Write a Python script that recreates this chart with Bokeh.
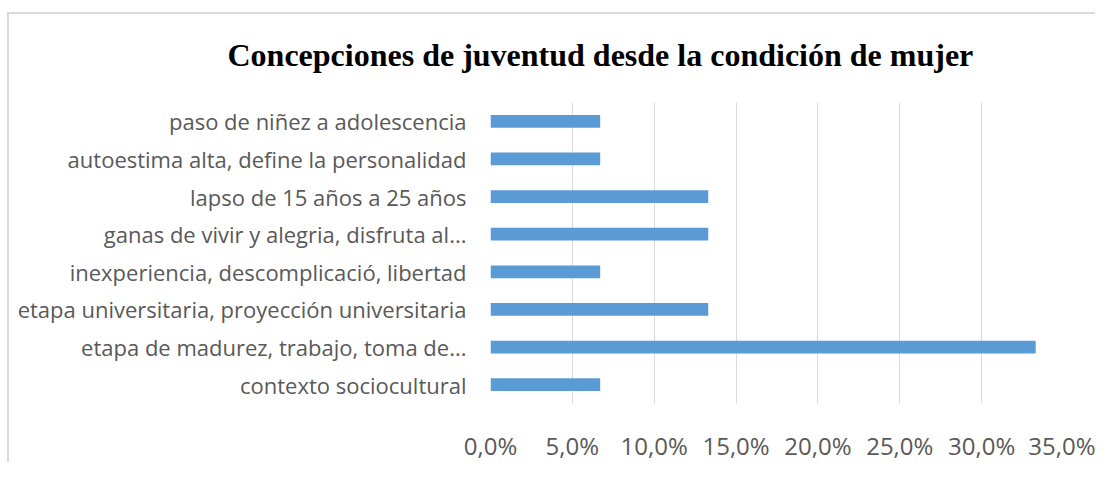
from bokeh.plotting import figure
from bokeh.models import FactorRange, Range1d, FixedTicker, CustomJSTickFormatter, ColumnDataSource, Title
from bokeh.embed import file_html
from bokeh.resources import INLINE

# categories listed bottom -> top
categories = [
    "contexto sociocultural",
    "etapa de madurez, trabajo, toma de...",
    "etapa universitaria, proyección universitaria",
    "inexperiencia, descomplicació, libertad",
    "ganas de vivir y alegria, disfruta al...",
    "lapso de 15 años a 25 años",
    "autoestima alta, define la personalidad",
    "paso de niñez a adolescencia",
]
values = [6.7, 33.3, 13.3, 6.7, 13.3, 13.3, 6.7, 6.7]
tick_values = [0, 5, 10, 15, 20, 25, 30, 35]
title_text = "Concepciones de juventud desde la condición de mujer"

src = ColumnDataSource(dict(cat=categories, val=values))

p = figure(
    width=1088, height=450,
    y_range=FactorRange(factors=categories, range_padding=0),
    x_range=Range1d(0, 35),
    output_backend="svg", toolbar_location=None,
    min_border_left=481, min_border_right=34, min_border_top=88, min_border_bottom=57,
)
p.styles = {"border-left": "2px solid #d9d9d9", "border-top": "2px solid #d9d9d9",
            "margin-top": "12px", "margin-left": "7px"}

p.hbar(y="cat", right="val", left=0, height=0.34, source=src, color="#5b9bd5", line_color=None)

spacer = Title(text=" ", text_font_size="11px", standoff=0)
p.add_layout(spacer, "above")
t = Title(text=title_text, align="left", offset=-263,
          text_font="Liberation Serif", text_font_size="32px", text_font_style="bold",
          text_color="#000000", standoff=32)
p.add_layout(t, "above")

p.outline_line_color = None
p.ygrid.grid_line_color = None
p.xgrid.grid_line_color = "#d9d9d9"
p.xgrid.grid_line_width = 1

p.xaxis.ticker = FixedTicker(ticks=tick_values)
p.xaxis.formatter = CustomJSTickFormatter(code="return tick.toFixed(1).replace('.', ',') + '%';")
for ax in (p.xaxis[0], p.yaxis[0]):
    ax.axis_line_color = None
    ax.major_tick_line_color = None
    ax.minor_tick_line_color = None
    ax.major_label_text_font = "Open Sans"
    ax.major_label_text_color = "#595959"
p.yaxis.major_label_text_font_size = "22px"
p.xaxis.major_label_text_font_size = "24px"
p.yaxis.major_label_standoff = 18
p.xaxis.major_label_standoff = 19

open("out.html", "w").write(file_html(p, INLINE))
